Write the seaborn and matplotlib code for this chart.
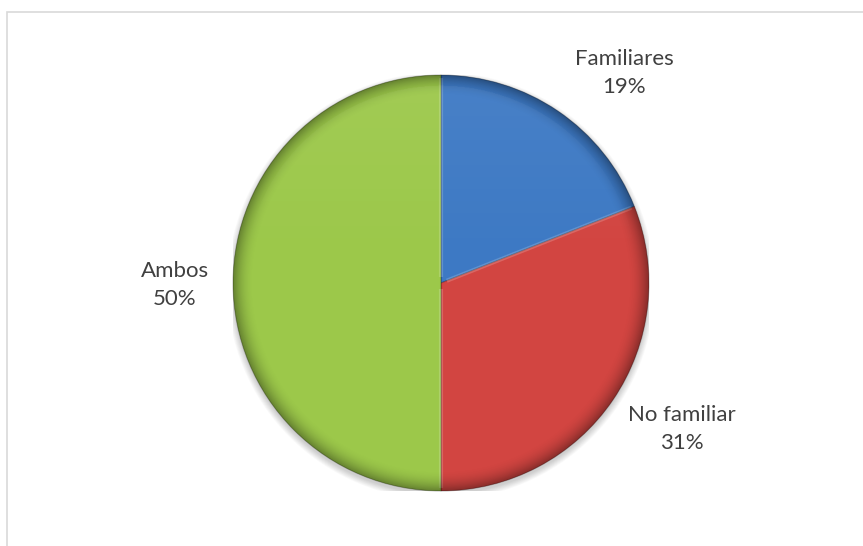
import numpy as np
import matplotlib
matplotlib.use("Agg")
import matplotlib.pyplot as plt
import seaborn as sns
from matplotlib.patches import Circle, Rectangle

sns.set_theme(style="white")
plt.rcParams["font.family"] = ["Lato", "DejaVu Sans"]

# Data
categories = ["Familiares", "No familiar", "Ambos"]
percentages = [19, 31, 50]
colors = ["#3D79C4", "#D24541", "#9CC84A"]

# Label anchor points in pie-radius units
label_xy = [(0.88, 1.01), (1.16, -0.70), (-1.28, -0.01)]

W, H = 863, 546
fig = plt.figure(figsize=(W / 100, H / 100), dpi=100)
fig.patch.set_facecolor("white")

# Chart area frame
fig.add_artist(Rectangle((7 / W, -0.01), 1.02, 1 - 12 / H + 0.01,
                         transform=fig.transFigure, fill=False,
                         edgecolor="#D9D9D9", linewidth=1.2))

cx, cy, r = 441, 283, 208
ax = fig.add_axes([(cx - r) / W, (H - cy - r) / H, 2 * r / W, 2 * r / H])
ax.axis("off")

# Soft drop shadow beneath the pie
for k in range(8):
    ax.add_patch(Circle((0.0, -0.015), 1.0 + 0.004 * k, facecolor="black",
                        alpha=0.025, edgecolor="none", zorder=0))

wedges, texts = ax.pie(
    percentages,
    labels=[f"{c}\n{p}%" for c, p in zip(categories, percentages)],
    colors=colors,
    startangle=90,
    counterclock=False,
    radius=1.0,
    wedgeprops=dict(edgecolor=(0, 0, 0, 0.25), linewidth=0.8, zorder=2),
    textprops=dict(fontsize=16, color="#404040", linespacing=1.5),
)
for t, xy in zip(texts, label_xy):
    t.set_position(xy)
    t.set_horizontalalignment("center")
    t.set_verticalalignment("center")

# Bevel highlight along the radial edges
for w in wedges:
    th = np.deg2rad(w.theta2)
    ax.plot([0.03 * np.cos(th), 0.985 * np.cos(th)],
            [0.03 * np.sin(th), 0.985 * np.sin(th)],
            color="white", alpha=0.18, lw=3, zorder=2.5,
            solid_capstyle="butt")

# Rim shading to give the disc some depth
n = 600
yy, xx = np.mgrid[-1:1:n * 1j, -1:1:n * 1j]
rr = np.sqrt(xx ** 2 + yy ** 2)
shade = np.zeros((n, n, 4))
shade[..., 3] = np.clip((rr - 0.90) / 0.10, 0, 1) ** 2 * 0.35
img = ax.imshow(shade, extent=(-1, 1, -1, 1), origin="lower", zorder=3,
                interpolation="bilinear")
img.set_clip_path(Circle((0, 0), 1.0, transform=ax.transData))

# Light sheen over the top half
sheen = np.zeros((n, n, 4))
sheen[..., :3] = 1.0
sheen[..., 3] = np.clip((yy - 0.1) / 0.9, 0, 1) * 0.06 * (rr < 0.95)
img2 = ax.imshow(sheen, extent=(-1, 1, -1, 1), origin="lower", zorder=3,
                 interpolation="bilinear")
img2.set_clip_path(Circle((0, 0), 1.0, transform=ax.transData))

ax.set_xlim(-1, 1)
ax.set_ylim(-1, 1)
ax.set_aspect("equal")

fig.savefig("out.png", dpi=100, facecolor="white")
